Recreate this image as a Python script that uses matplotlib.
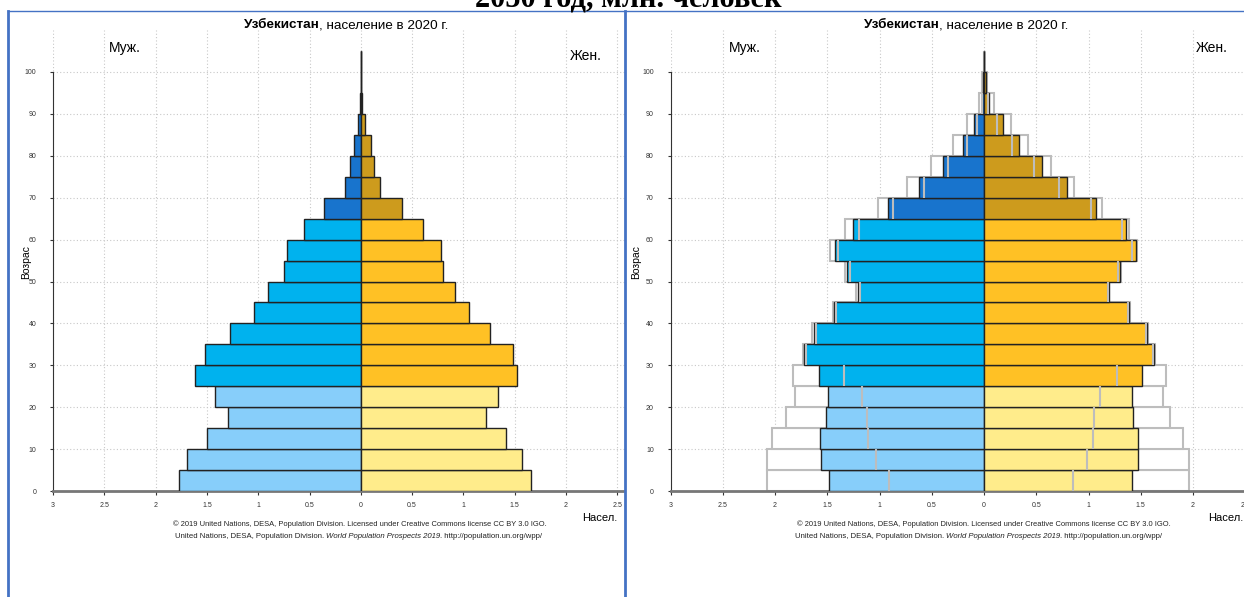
import numpy as np
import matplotlib
matplotlib.use('Agg')
import matplotlib.pyplot as plt
from matplotlib.lines import Line2D
from matplotlib.patches import Rectangle

plt.rcParams['font.family'] = ['Liberation Sans', 'DejaVu Sans']

# age groups (5-year), bottom edge of each bar
ages = ['0-4', '5-9', '10-14', '15-19', '20-24', '25-29', '30-34', '35-39', '40-44',
        '45-49', '50-54', '55-59', '60-64', '65-69', '70-74', '75-79', '80-84',
        '85-89', '90-94', '95-99', '100+']
age_start = [0, 5, 10, 15, 20, 25, 30, 35, 40, 45, 50, 55, 60, 65, 70, 75, 80, 85, 90, 95, 100]

# left panel, millions
male_l = [1.77, 1.69, 1.50, 1.29, 1.42, 1.62, 1.52, 1.27, 1.04, 0.90, 0.75, 0.72, 0.55,
          0.357, 0.153, 0.104, 0.065, 0.032, 0.012, 0.001, 0.0]
female_l = [1.66, 1.57, 1.42, 1.22, 1.34, 1.52, 1.48, 1.26, 1.05, 0.92, 0.80, 0.78, 0.61,
            0.406, 0.188, 0.124, 0.097, 0.042, 0.015, 0.002, 0.0]

# right panel: median, upper and lower bounds
male_r = [1.486, 1.56, 1.566, 1.51, 1.49, 1.58, 1.72, 1.624, 1.432, 1.206, 1.308, 1.426, 1.25,
          0.922, 0.625, 0.389, 0.198, 0.092, 0.019, 0.01, 0.0]
male_r_hi = [2.08, 2.08, 2.026, 1.89, 1.81, 1.83, 1.73, 1.643, 1.448, 1.225, 1.33, 1.474, 1.33,
             1.017, 0.734, 0.507, 0.293, 0.16, 0.051, 0.015, 0.0]
male_r_lo = [0.909, 1.036, 1.107, 1.117, 1.17, 1.337, 1.70, 1.61, 1.42, 1.19, 1.28, 1.394, 1.20,
             0.874, 0.574, 0.348, 0.166, 0.067, 0.015, 0.008, 0.0]
female_r = [1.413, 1.471, 1.477, 1.429, 1.413, 1.509, 1.63, 1.563, 1.388, 1.193, 1.30, 1.452, 1.356,
            1.072, 0.791, 0.558, 0.335, 0.178, 0.051, 0.015, 0.0]
female_r_hi = [1.959, 1.959, 1.907, 1.78, 1.71, 1.742, 1.64, 1.57, 1.397, 1.2, 1.31, 1.46, 1.388,
               1.126, 0.861, 0.644, 0.424, 0.255, 0.096, 0.025, 0.0]
female_r_lo = [0.849, 0.983, 1.046, 1.056, 1.11, 1.27, 1.62, 1.555, 1.38, 1.185, 1.28, 1.42, 1.318,
               1.021, 0.72, 0.481, 0.271, 0.124, 0.04, 0.01, 0.0]

xticks = [-3, -2.5, -2, -1.5, -1, -0.5, 0, 0.5, 1, 1.5, 2, 2.5, 3]
yticks = [0, 10, 20, 30, 40, 50, 60, 70, 80, 90, 100]


def group_colors(young, mid, old):
    out = []
    for a in age_start:
        out.append(young if a < 25 else (mid if a < 65 else old))
    return out


m_cols = group_colors('#87CEFA', '#00B2EE', '#1874CD')
f_cols = group_colors('#FFEC8B', '#FFC125', '#CD9B1D')

W, H = 1244, 597
fig = plt.figure(figsize=(W / 100, H / 100), dpi=100)


def fx(px):
    return px / W


def fy(py):
    return 1 - py / H


def setup_axes(ax):
    ax.set_xlim(-3, 3)
    ax.set_ylim(0, 110)
    ax.set_xticks(xticks)
    ax.set_xticklabels([f'{abs(v):g}' for v in xticks])
    ax.set_yticks(yticks)
    ax.grid(True, linestyle=(0, (1, 2)), color='#c8c8c8', lw=0.8)
    ax.set_axisbelow(True)
    for s in ['top', 'right']:
        ax.spines[s].set_visible(False)
    ax.spines['left'].set_bounds(0, 100)
    ax.spines['left'].set_color('#333333')
    ax.spines['bottom'].set_color('#777777')
    ax.spines['bottom'].set_linewidth(2)
    ax.tick_params(axis='y', length=2, pad=10, labelsize=5, colors='#333333')
    ax.tick_params(axis='x', length=3, pad=5, labelsize=5, colors='#333333')
    ax.plot([0, 0], [0, 105], color='#666666', lw=1, zorder=2)


# left panel
axl = fig.add_axes([fx(53), fy(491), fx(615.6), 460.9 / H])
axl.set_zorder(0)
setup_axes(axl)
axl.barh(age_start, [-v for v in male_l], height=5, align='edge', color=m_cols,
         edgecolor='#222222', lw=1, zorder=3)
axl.barh(age_start, female_l, height=5, align='edge', color=f_cols,
         edgecolor='#222222', lw=1, zorder=3)

# white cover for the second screenshot
fig.patches.append(Rectangle((fx(625), 0), 1 - fx(625), fy(11), transform=fig.transFigure,
                             facecolor='white', edgecolor='none', zorder=1))

# right panel
axr = fig.add_axes([fx(670.5), fy(491), fx(627), 460.9 / H])
axr.set_zorder(2)
setup_axes(axr)
axr.barh(age_start, [-v for v in male_r_hi], height=5, align='edge', color='white',
         edgecolor='#bdbdbd', lw=1.5, zorder=2.5)
axr.barh(age_start, female_r_hi, height=5, align='edge', color='white',
         edgecolor='#bdbdbd', lw=1.5, zorder=2.5)
axr.barh(age_start, [-v for v in male_r], height=5, align='edge', color=m_cols,
         edgecolor='#222222', lw=1, zorder=3)
axr.barh(age_start, female_r, height=5, align='edge', color=f_cols,
         edgecolor='#222222', lw=1, zorder=3)
lo_y = [a for a in age_start if a < 95]
n = len(lo_y)
axr.vlines([-v for v in male_r_lo[:n]], lo_y, [a + 5 for a in lo_y], color='#bdbdbd', lw=1.5, zorder=4)
axr.vlines(female_r_lo[:n], lo_y, [a + 5 for a in lo_y], color='#bdbdbd', lw=1.5, zorder=4)


def chain(x, y, parts, size, color='black'):
    prev = None
    for txt, style in parts:
        weight = 'bold' if style == 'b' else 'normal'
        slant = 'italic' if style == 'i' else 'normal'
        if prev is None:
            prev = fig.text(fx(x), fy(y), txt, fontsize=size, va='center', ha='left',
                            fontweight=weight, fontstyle=slant, color=color, zorder=5)
        else:
            prev = plt.annotate(txt, xy=(1, 0), xycoords=prev, va='bottom', ha='left',
                                fontsize=size, fontweight=weight, fontstyle=slant, color=color,
                                annotation_clip=False, zorder=5)
    return prev


for x0, cx, xm, xw, xn in [(244, 360, 125, 586, 600), (864, 984, 745, 1212, 1226)]:
    chain(x0, 25, [('Узбекистан', 'b'), (', население в 2020 г.', 'n')], 9.7)
    fig.text(fx(xm), fy(48), 'Муж.', fontsize=10, ha='center', va='center', zorder=5)
    fig.text(fx(xw), fy(56 if cx < 600 else 48), 'Жен.', fontsize=10, ha='center', va='center', zorder=5)
    fig.text(fx(xn), fy(518), 'Насел.', fontsize=8, ha='center', va='center', zorder=5)
    fig.text(fx(cx), fy(524), '© 2019 United Nations, DESA, Population Division. Licensed under '
             'Creative Commons license CC BY 3.0 IGO.', fontsize=5.4, ha='center', va='center',
             color='#222222', zorder=5)
    chain(x0 - 69, 537, [('United Nations, DESA, Population Division. ', 'n'),
                         ('World Population Prospects 2019', 'i'),
                         ('. http://population.un.org/wpp/', 'n')], 5.6, '#222222')

for xl in [26, 636]:
    fig.text(fx(xl), fy(262), 'Возрас', fontsize=7.5, rotation=90, ha='center', va='center', zorder=5)

# frames of the pasted screenshots
blue = '#4472C4'
fig.add_artist(Line2D([fx(8), fx(8)], [0, fy(11)], color=blue, lw=2, zorder=6))
fig.add_artist(Line2D([fx(625), fx(625)], [0, fy(11)], color=blue, lw=2, zorder=6))
fig.add_artist(Line2D([fx(8), 1], [fy(11), fy(11)], color=blue, lw=1, zorder=6))

fig.text(fx(628), fy(6), '2050 год, млн. человек', fontsize=22, fontweight='bold',
         family='Liberation Serif', ha='center', va='baseline', zorder=6)

fig.savefig('out.png', dpi=100)
